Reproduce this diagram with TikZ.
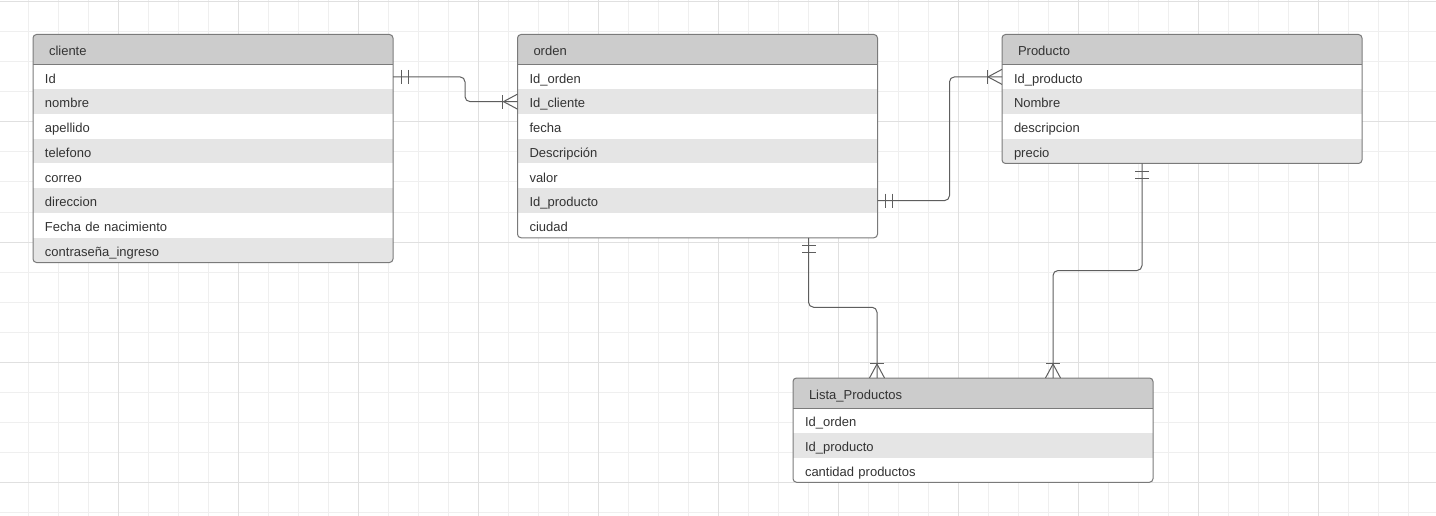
\documentclass[tikz,border=0pt]{standalone}
\usepackage{fontspec}
\setmainfont{Liberation Sans}
\usetikzlibrary{calc}

\definecolor{gridminor}{HTML}{EFEFEF}
\definecolor{gridmajor}{HTML}{E0E0E0}
\definecolor{hdrfill}{HTML}{CCCCCC}
\definecolor{stripe}{HTML}{E5E5E5}
\definecolor{framegray}{HTML}{7A7A7A}
\definecolor{txt}{HTML}{333333}
\definecolor{linkgray}{HTML}{5E5E5E}

\newcommand{\cellfont}{\fontsize{13pt}{15pt}\selectfont}
\newcommand{\rowh}{24.75}

\tikzset{
  hdrcell/.style={rectangle, fill=hdrfill, minimum width=360pt, text width=328pt,
    inner xsep=16pt, inner ysep=0pt, minimum height=30pt, text height=12.5pt,
    text depth=0pt, align=left, font=\cellfont, text=txt, outer sep=0pt},
  rowcell/.style={rectangle, minimum width=360pt, text width=336pt,
    inner xsep=12pt, inner ysep=0pt, minimum height=\rowh pt, text height=12.5pt,
    text depth=0pt, align=left, font=\cellfont, text=txt, outer sep=0pt},
  tblframe/.style={rectangle, draw=framegray, line width=1pt, rounded corners=3.5pt,
    minimum width=360pt, inner sep=0pt, outer sep=0pt},
  rel/.style={draw=linkgray, line width=1pt},
}

% entity table: name, left x, top y, title, attribute list
\newcommand{\erdtable}[5]{%
  \foreach \lbl [count=\i] in {#5} {\xdef\nrows{\i}}%
  \pgfmathsetmacro{\tblh}{30+\nrows*\rowh}%
  \begin{scope}
    \clip[rounded corners=3.5pt] (#2,#3) rectangle ++(360,\tblh);
    \fill[white] (#2,#3) rectangle ++(360,\tblh);
    \node[hdrcell, anchor=north west] (#1-h) at (#2,#3) {#4};
    \foreach \lbl [count=\i] in {#5} {
      \pgfmathsetmacro{\rowy}{#3+30+(\i-1)*\rowh}
      \ifodd\i\def\rowfill{white}\else\def\rowfill{stripe}\fi
      \node[rowcell, anchor=north west, fill=\rowfill] (#1-\i) at (#2,\rowy) {\lbl};
    }
  \end{scope}
  \node[tblframe, anchor=north west, minimum height=\tblh pt] (#1) at (#2,#3) {};
  \draw[framegray, line width=1pt] (#2,#3+30) -- ++(360,0);
}

% "exactly one" end: two bars across the line, line leaving at angle #2
\newcommand{\mandone}[2]{%
  \foreach \dd in {8,15}{%
    \draw[rel] ($(#1)+({#2}:\dd pt)+({#2+90}:7pt)$) -- ($(#1)+({#2}:\dd pt)+({#2-90}:7pt)$);}%
}
% "one or many" end: bar plus crow's foot
\newcommand{\crowmany}[2]{%
  \draw[rel] ($(#1)+({#2}:15pt)+({#2+90}:7pt)$) -- ($(#1)+({#2}:15pt)+({#2-90}:7pt)$);
  \draw[rel] ($(#1)+({#2+90}:7.5pt)$) -- ($(#1)+({#2}:14pt)$) -- ($(#1)+({#2-90}:7.5pt)$);
}

\begin{document}
\begin{tikzpicture}[x=1pt, y=-1pt]
  \useasboundingbox (0,0) rectangle (1436,516);
  \fill[white] (0,0) rectangle (1436,516);

  % background grid
  \foreach \gx in {28,58,...,1408}
    \draw[gridminor, line width=1pt] (\gx,0) -- (\gx,516);
  \foreach \gy in {2,32,...,512}
    \draw[gridminor, line width=1pt] (0,\gy) -- (1436,\gy);
  \foreach \gx in {118,238,...,1318}
    \draw[gridmajor, line width=1pt] (\gx,0) -- (\gx,516);
  \foreach \gy in {2,122,...,482}
    \draw[gridmajor, line width=1pt] (0,\gy) -- (1436,\gy);

  % entities
  \erdtable{cliente}{33}{34.5}{cliente}{Id,nombre,apellido,telefono,correo,direccion,Fecha de nacimiento,contraseña\_ingreso}
  \erdtable{orden}{517.5}{34.5}{orden}{Id\_orden,Id\_cliente,fecha,Descripción,valor,Id\_producto,ciudad}
  \erdtable{producto}{1002}{34.5}{Producto}{Id\_producto,Nombre,descripcion,precio}
  \erdtable{lista}{793}{378}{Lista\_Productos}{Id\_orden,Id\_producto,cantidad productos}

  % attachment points on table borders
  \coordinate (ordenB) at ([xshift=111pt]orden.south);
  \coordinate (listaA) at ([xshift=-96pt]lista.north);
  \coordinate (prodB) at ([xshift=-40pt]producto.south);
  \coordinate (listaB) at ([xshift=80pt]lista.north);

  % relationships
  \draw[rel, rounded corners=5pt] (cliente-1.east) -- ++(72,0) |- (orden-2.west);
  \mandone{cliente-1.east}{0}
  \crowmany{orden-2.west}{180}

  \draw[rel, rounded corners=5pt] (orden-6.east) -- ++(72,0) |- (producto-1.west);
  \mandone{orden-6.east}{0}
  \crowmany{producto-1.west}{180}

  \draw[rel, rounded corners=5pt] (ordenB) -- ++(0,69.5) -| (listaA);
  \mandone{ordenB}{270}
  \crowmany{listaA}{90}

  \draw[rel, rounded corners=5pt] (prodB) -- ++(0,107) -| (listaB);
  \mandone{prodB}{270}
  \crowmany{listaB}{90}
\end{tikzpicture}
\end{document}
